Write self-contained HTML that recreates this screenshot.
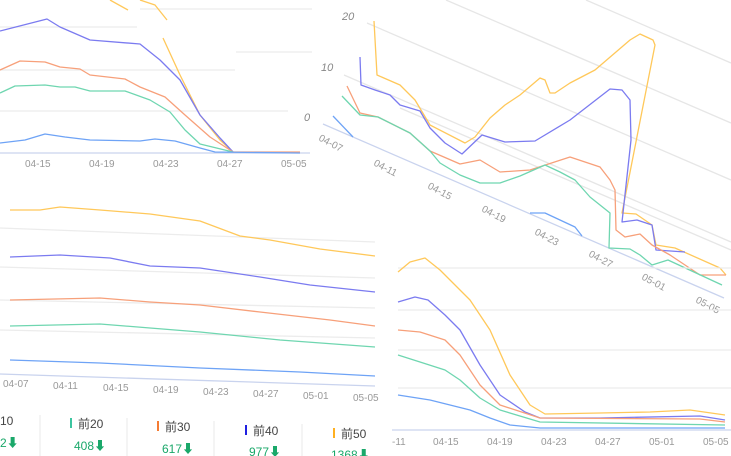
<!DOCTYPE html><html><head><meta charset="utf-8"><style>
body{margin:0;background:#fff;width:731px;height:456px;overflow:hidden;font-family:"Liberation Sans","Noto Sans CJK SC",sans-serif}
svg{position:absolute;left:0;top:0}
</style></head><body>
<svg width="731" height="456" viewBox="0 0 731 456">
<g fill="none" stroke-width="1.3" stroke-linejoin="round">
<!-- top-left grid -->
<g stroke="#ececec"><line x1="140" y1="9" x2="312" y2="9"/><line x1="0" y1="27" x2="137" y2="27"/><line x1="236" y1="52" x2="312" y2="52"/><line x1="0" y1="70" x2="235" y2="70"/><line x1="0" y1="111" x2="288" y2="111"/></g>
<line x1="0" y1="153" x2="310" y2="153" stroke="#c9d3ee"/>
<polyline stroke="#ffc85a" points="110,0 128,10"/><polyline stroke="#ffc85a" points="140,0 155,5 167,20"/>
<polyline stroke="#ffc85a" points="163,38 180,75 200,115 220,140 233,152"/>
<polyline stroke="#7b7bf0" points="0,31 47,19 60,27 90,40 140,44 160,60 180,80 200,115 220,138 233,152"/>
<polyline stroke="#f7a07a" points="0,70 20,61 45,62 60,67 80,69 90,75 125,79 140,87 165,97 185,115 210,137 233,152 300,152"/>
<polyline stroke="#6fd6b0" points="0,93 15,86 45,85 60,87 75,87 90,91 125,91 150,100 170,112 185,130 200,144 233,152"/>
<polyline stroke="#6ea3f6" points="0,143 25,140 45,134 65,137 90,140 140,141 155,139 175,141 200,148 215,152 300,153"/>
<g fill="#999" stroke="none" font-size="10"><text x="25" y="167">04-15</text><text x="89" y="167">04-19</text><text x="153" y="167">04-23</text><text x="217" y="167">04-27</text><text x="281" y="167">05-05</text></g>
<!-- right rotated panel -->
<g stroke="#e6e6e6"><line x1="367" y1="23" x2="731" y2="180"/><line x1="344" y1="75" x2="731" y2="242"/><line x1="446" y1="0" x2="731" y2="123"/><line x1="586" y1="0" x2="731" y2="63"/><line x1="400" y1="108" x2="731" y2="250"/></g>
<line x1="323" y1="124" x2="724" y2="298" stroke="#c9d3ee"/>
<polyline stroke="#ffc85a" points="374,21 377,75 400,85 415,100 430,125 465,143 475,137 490,118 505,105 520,95 540,78 545,80 550,93 555,93 570,83 595,70 630,40 640,34 653,40 655,45 622,213 636,214 652,225 656,245 675,248 720,268 726,275"/>
<polyline stroke="#7b7bf0" points="360,57 361,85 375,90 390,95 400,105 420,111 430,128 445,143 462,154 482,135 505,142 535,141 570,120 610,89 622,90 630,100 631,140 622,222 637,220 652,225 656,250 685,252"/>
<polyline stroke="#f7a07a" points="347,86 360,113 378,117 410,133 430,151 460,164 480,160 500,172 530,170 570,157 600,167 610,180 615,190 616,230 625,237 640,234 652,245 670,255 700,275 726,275"/>
<polyline stroke="#6fd6b0" points="342,96 360,115 378,117 410,133 430,151 440,163 460,175 480,183 500,183 520,176 545,165 560,172 575,180 590,197 610,213 609,248 630,249 640,255 652,265 668,260 722,285"/>
<polyline stroke="#6ea3f6" points="333,116 353,137"/><polyline stroke="#6ea3f6" points="530,213 545,213 575,227 582,236"/>
<g fill="#888" stroke="none" font-size="11" font-style="italic"><text x="342" y="20">20</text><text x="321" y="71">10</text><text x="304" y="121">0</text></g>
<g fill="#999" stroke="none" font-size="10">
<text transform="translate(318,140) rotate(28)">04-07</text><text transform="translate(373,165) rotate(28)">04-11</text><text transform="translate(427,188) rotate(28)">04-15</text><text transform="translate(481,211) rotate(28)">04-19</text><text transform="translate(534,234) rotate(28)">04-23</text><text transform="translate(588,256) rotate(28)">04-27</text><text transform="translate(641,279) rotate(28)">05-01</text><text transform="translate(695,302) rotate(28)">05-05</text></g>
<!-- bottom-left panel -->
<g stroke="#ececec"><line x1="0" y1="228" x2="375" y2="242"/><line x1="0" y1="267" x2="375" y2="278"/><line x1="0" y1="300" x2="375" y2="308"/><line x1="0" y1="330" x2="375" y2="338"/></g>
<line x1="0" y1="374" x2="375" y2="386" stroke="#c9d3ee"/>
<polyline stroke="#ffc85a" points="10,210 40,210 60,207 100,210 150,214 200,221 240,236 270,240 320,249 375,256"/>
<polyline stroke="#7b7bf0" points="10,257 60,255 110,258 150,266 200,268 260,277 310,285 375,292"/>
<polyline stroke="#f7a07a" points="10,300 100,298 150,302 200,305 260,312 330,320 375,326"/>
<polyline stroke="#6fd6b0" points="10,326 100,324 150,328 200,332 280,340 375,347"/>
<polyline stroke="#6ea3f6" points="10,360 100,363 200,368 300,372 375,376"/>
<g fill="#999" stroke="none" font-size="10"><text x="3" y="387">04-07</text><text x="53" y="389">04-11</text><text x="103" y="391">04-15</text><text x="153" y="393">04-19</text><text x="203" y="395">04-23</text><text x="253" y="397">04-27</text><text x="303" y="399">05-01</text><text x="353" y="401">05-05</text></g>
<!-- bottom-right panel -->
<g stroke="#ececec"><line x1="398" y1="268" x2="731" y2="268"/><line x1="398" y1="310" x2="731" y2="310"/><line x1="398" y1="350" x2="731" y2="350"/><line x1="398" y1="388" x2="731" y2="388"/></g>
<line x1="392" y1="430" x2="731" y2="430" stroke="#c9d3ee"/>
<polyline stroke="#ffc85a" points="398,272 410,262 425,258 440,270 455,285 470,300 490,330 510,375 530,405 545,414 600,413 650,412 690,410 725,415"/>
<polyline stroke="#7b7bf0" points="398,302 415,297 428,300 445,315 460,330 480,365 500,395 525,412 540,418 600,418 700,416 725,420"/>
<polyline stroke="#f7a07a" points="398,330 420,332 445,340 460,355 480,385 500,405 540,418 700,419 725,422"/>
<polyline stroke="#6fd6b0" points="398,355 420,362 445,370 460,380 480,398 500,410 540,422 725,425"/>
<polyline stroke="#6ea3f6" points="398,395 430,400 450,405 470,410 490,418 510,425 540,428 725,428"/>
<g fill="#999" stroke="none" font-size="10"><text x="392" y="445">-11</text><text x="433" y="445">04-15</text><text x="487" y="445">04-19</text><text x="541" y="445">04-23</text><text x="595" y="445">04-27</text><text x="649" y="445">05-01</text><text x="703" y="445">05-05</text></g>
<!-- legend -->
<g stroke="#eee"><line x1="40" y1="415" x2="40" y2="456"/><line x1="127" y1="418" x2="127" y2="456"/><line x1="214" y1="421" x2="214" y2="456"/><line x1="302" y1="424" x2="302" y2="456"/></g>
<g stroke-width="2"><line x1="71" y1="418" x2="71" y2="428" stroke="#3cc5a0"/><line x1="158" y1="421" x2="158" y2="431" stroke="#f57c33"/><line x1="246" y1="425" x2="246" y2="435" stroke="#2020e0"/><line x1="334" y1="428" x2="334" y2="438" stroke="#ffb020"/></g>
<g stroke="none" font-size="12" fill="#444"><text x="0" y="425">10</text><text x="78" y="428">前20</text><text x="165" y="431">前30</text><text x="253" y="435">前40</text><text x="341" y="438">前50</text></g>
<g stroke="none" font-size="12" fill="#1aa86a"><text x="0" y="447">2⬇</text><text x="74" y="450">408⬇</text><text x="162" y="453">617⬇</text><text x="249" y="456">977⬇</text><text x="331" y="459">1368⬇</text></g>
</g>
</svg>
</body></html>
